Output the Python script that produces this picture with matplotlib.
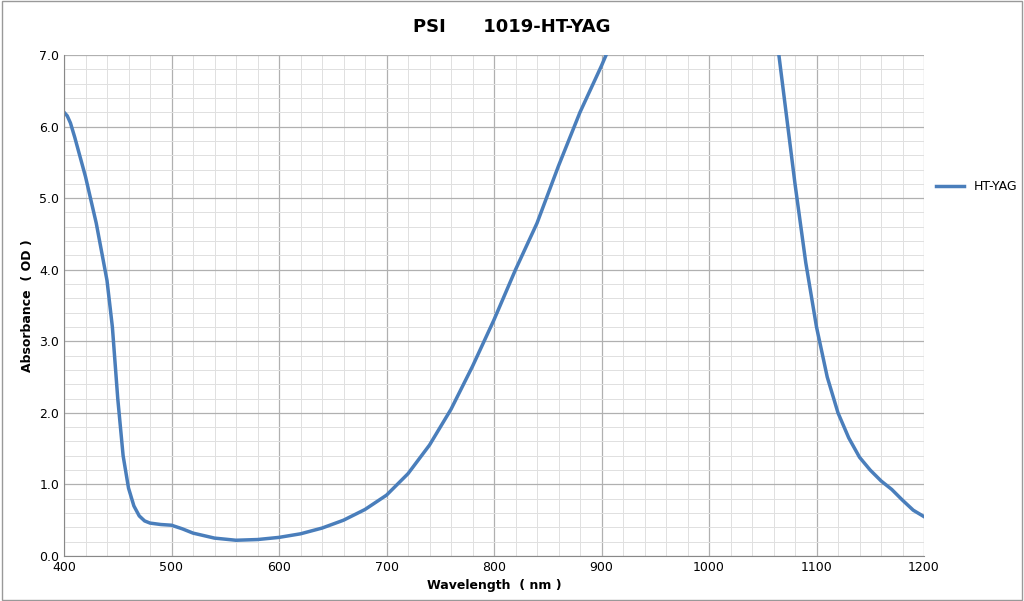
import matplotlib
matplotlib.use("Agg")
import matplotlib.pyplot as plt
import numpy as np
from matplotlib.ticker import MultipleLocator

wl_left = [400, 403, 406, 410, 420, 430, 440, 445, 450, 455, 460, 465, 470, 475, 480, 490, 500, 510, 520, 540,
           560, 580, 600, 620, 640, 660, 680, 700, 720, 740, 760, 780, 800, 820, 840, 860, 880, 900, 910, 920]
abs_left = [6.2, 6.15, 6.05, 5.85, 5.3, 4.65, 3.85, 3.2, 2.2, 1.4, 0.95, 0.7, 0.56, 0.49, 0.46, 0.44, 0.43, 0.38, 0.32, 0.25,
            0.22, 0.23, 0.26, 0.31, 0.39, 0.5, 0.65, 0.85, 1.15, 1.55, 2.05, 2.65, 3.3, 4.0, 4.65, 5.45, 6.2, 6.85, 7.2, 7.5]
wl_right = [1060, 1065, 1070, 1080, 1090, 1100, 1110, 1120, 1130, 1140, 1150, 1160, 1170, 1180, 1190, 1200]
abs_right = [7.6, 7.0, 6.4, 5.2, 4.1, 3.2, 2.5, 2.0, 1.65, 1.38, 1.2, 1.05, 0.93, 0.78, 0.64, 0.55]

wl = wl_left + [np.nan] + wl_right
ab = abs_left + [np.nan] + abs_right

fig = plt.figure(figsize=(10.24, 6.01), dpi=100)
ax = fig.add_axes([64/1024, 45/601, 860/1024, 501/601])
ax.plot(wl, ab, color="#4a7ebb", lw=2.5, label="HT-YAG", solid_joinstyle="round")
ax.set_xlim(400, 1200)
ax.set_ylim(0, 7)
ax.xaxis.set_major_locator(MultipleLocator(100))
ax.xaxis.set_minor_locator(MultipleLocator(20))
ax.yaxis.set_major_locator(MultipleLocator(1))
ax.yaxis.set_minor_locator(MultipleLocator(0.2))
ax.yaxis.set_major_formatter(matplotlib.ticker.FormatStrFormatter("%.1f"))
ax.grid(which="major", color="#b0b0b0", lw=0.9)
ax.grid(which="minor", color="#e0e0e0", lw=0.7)
ax.set_axisbelow(True)
for s in ["top", "right"]:
    ax.spines[s].set_visible(False)
for s in ["left", "bottom"]:
    ax.spines[s].set_color("#888888")
ax.tick_params(which="both", length=0, labelsize=9)
ax.set_xlabel("Wavelength  ( nm )", fontsize=9, fontweight="bold", labelpad=4)
ax.set_ylabel("Absorbance  ( OD )", fontsize=9, fontweight="bold")
fig.text(0.5, 0.955, "PSI      1019-HT-YAG", ha="center", va="center", fontsize=13, fontweight="bold")
fig.legend(loc="center left", bbox_to_anchor=(925/1024, 1-187/601), frameon=False, fontsize=9, handlelength=2.2)
fig.patches.append(plt.Rectangle((0.002, 0.002), 0.996, 0.996, transform=fig.transFigure, fill=False, edgecolor="#999999", lw=1))
fig.savefig("out.png", dpi=100)
